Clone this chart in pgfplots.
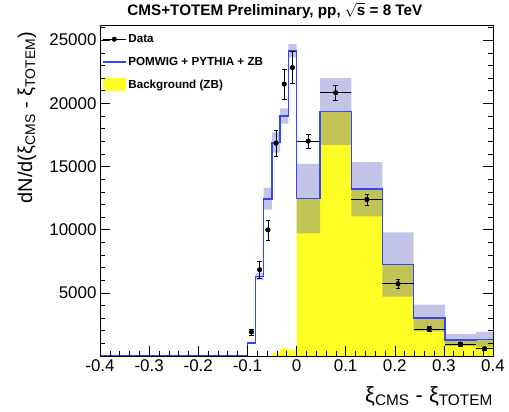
\documentclass[border=0pt]{standalone}
\usepackage{fontspec}
\setmainfont{Liberation Sans}
\usepackage{pgfplots}
\usepackage{pgfplotstable}
\pgfplotsset{compat=1.18}
\usepgfplotslibrary{fillbetween}

\definecolor{rootblue}{rgb}{0.2,0.27,1}
\definecolor{rootyellow}{rgb}{1,1,0.15}
\definecolor{bandcol}{rgb}{0.25,0.28,0.72}

% POMWIG + PYTHIA + ZB (left bin edges, last row = right edge)
\pgfplotstableread{
x        y
-0.4     0
-0.1     1047
-0.0833  6300
-0.0667  12440
-0.05    16900
-0.0333  19000
-0.0167  24150
0        12460
0.048    19370
0.1115   13200
0.175    7240
0.2385   3000
0.302    1260
0.3655   1310
0.4      1310
}\mctab

% uncertainty band of the MC
\pgfplotstableread{
x        lo     hi
-0.1     947    1147
-0.0833  6000   6600
-0.0667  11580  13300
-0.05    16100  17700
-0.0333  18390  19610
-0.0167  23620  24680
0        9710   15210
0.048    16720  22020
0.1115   11060  15340
0.175    4700   9780
0.2385   1940   4060
0.302    780    1740
0.3655   710    1910
0.4      710    1910
}\bandtab

% background (ZB)
\pgfplotstableread{
x        y
-0.05    200
-0.0333  600
-0.0167  470
0        12460
0.048    19370
0.1115   13200
0.175    7240
0.2385   3000
0.302    1260
0.3655   1310
0.4      1310
}\bkgtab

% data
\pgfplotstableread{
x        y      ex       ey
-0.0917  1890   0        250
-0.075   6830   0        690
-0.0583  9980   0        800
-0.0417  16850  0        1060
-0.025   21520  0        1190
-0.0083  22830  0        1260
0.024    17010  0.024    580
0.0798   20840  0.03175  580
0.1433   12390  0.03175  450
0.2068   5720   0.03175  350
0.2703   2150   0.03175  200
0.3338   945    0.03175  150
0.3828   575    0.01725  150
}\datatab

\begin{document}
\begin{tikzpicture}
\begin{axis}[
    scale only axis,
    width=393bp, height=331bp,
    xmin=-0.4, xmax=0.4, ymin=0, ymax=26200,
    clip=false,
    axis on top,
    axis line style={line width=0.6bp},
    xtick={-0.4,-0.3,-0.2,-0.1,0,0.1,0.2,0.3,0.4},
    xticklabels={-0.4,-0.3,-0.2,-0.1,0,0.1,0.2,0.3,0.4},
    minor x tick num=4,
    ytick={5000,10000,15000,20000,25000},
    yticklabels={5000,10000,15000,20000,25000},
    scaled y ticks=false,
    minor ytick={1000,2000,...,26000},
    xtick pos=left, ytick pos=both, yticklabel pos=left,
    major tick length=10bp, minor tick length=5bp,
    tick style={line width=0.5bp, black},
    ticklabel style={font=\fontsize{17}{20}\selectfont},
    title={CMS+TOTEM Preliminary, pp, $\sqrt{\mbox{s}}$ = 8 TeV},
    title style={font=\fontsize{15.3}{18}\selectfont\bfseries,
        at={(axis description cs:0.445,1)}, anchor=base, yshift=4bp},
    xlabel={ξ\textsubscript{CMS} - ξ\textsubscript{TOTEM}},
    xlabel style={font=\fontsize{22}{26}\selectfont,
        at={(axis description cs:1,0)}, anchor=base east, yshift=-46bp,
        inner xsep=0pt},
    ylabel={dN/d(ξ\textsubscript{CMS} - ξ\textsubscript{TOTEM})},
    ylabel style={font=\fontsize{20}{24}\selectfont,
        at={(axis description cs:-0.186,0.99)}, anchor=east},
    legend style={at={(axis description cs:0.0,0.984)}, anchor=north west,
        draw=none, fill=none, font=\fontsize{11.7}{14}\selectfont\bfseries,
        row sep=9bp, inner sep=2bp},
    legend cell align=left,
]
% legend entries
\addlegendimage{legend image code/.code={
    \draw[black, line width=0.5bp] (0cm,0cm) -- (0.8cm,0cm);
    \fill[black] (0.4cm,0cm) circle (2.3bp);}}
\addlegendentry{Data}
\addlegendimage{legend image code/.code={
    \draw[rootblue, line width=1.5bp] (0cm,0cm) -- (0.8cm,0cm);}}
\addlegendentry{POMWIG + PYTHIA + ZB}
\addlegendimage{legend image code/.code={
    \fill[rootyellow] (0cm,-0.21cm) rectangle (0.8cm,0.21cm);}}
\addlegendentry{Background (ZB)}

% background
\addplot[const plot, fill=rootyellow, draw=none, forget plot]
    table[x=x, y=y]{\bkgtab} \closedcycle;

% MC uncertainty band
\addplot[const plot, draw=none, name path=lo, forget plot] table[x=x, y=lo]{\bandtab};
\addplot[const plot, draw=none, name path=hi, forget plot] table[x=x, y=hi]{\bandtab};
\addplot[fill=bandcol, fill opacity=0.32, draw=none, forget plot]
    fill between[of=hi and lo, on layer=main];

% MC total
\addplot[const plot, rootblue, line width=1.5bp, forget plot] table[x=x, y=y]{\mctab};

% data: horizontal bars
\addplot[only marks, mark=none, black, forget plot,
    error bars/.cd, x dir=both, x explicit, error mark=none,
    error bar style={line width=0.5bp}]
    table[x=x, y=y, x error=ex]{\datatab};
% data: points and vertical bars
\addplot[only marks, mark=*, mark size=2.3bp, black, forget plot,
    error bars/.cd, y dir=both, y explicit,
    error bar style={line width=0.5bp}]
    table[x=x, y=y, y error=ey]{\datatab};
\end{axis}
\pgfresetboundingbox
\path[use as bounding box] (-100bp,-56bp) rectangle (409bp,356bp);
\end{tikzpicture}
\end{document}
